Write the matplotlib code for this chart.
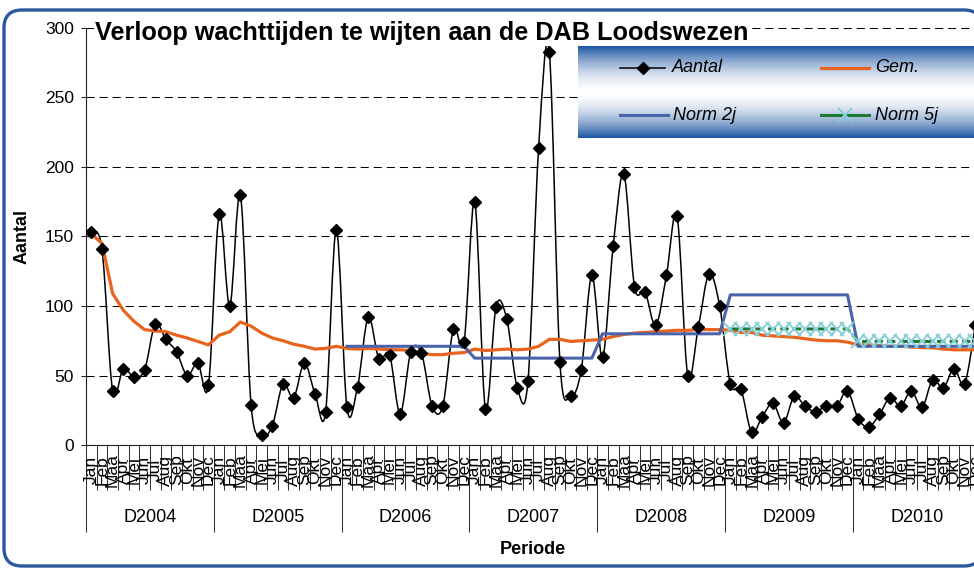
import numpy as np
import matplotlib.pyplot as plt
from matplotlib.path import Path
from matplotlib.patches import PathPatch, FancyBboxPatch
from matplotlib.transforms import blended_transform_factory

plt.rcParams['font.family'] = ['Liberation Sans', 'DejaVu Sans']
plt.rcParams['lines.scale_dashes'] = False

# Data =============================================================
maanden = ['Jan', 'Feb', 'Maa', 'Apr', 'Mei', 'Jun', 'Jul', 'Aug', 'Sep', 'Okt', 'Nov', 'Dec']
jaren = ['D2004', 'D2005', 'D2006', 'D2007', 'D2008', 'D2009', 'D2010']

aantal = [153, 141, 39, 55, 49, 54, 87, 76, 67, 50, 59, 43,
          166, 100, 180, 29, 7, 14, 44, 34, 59, 37, 24, 155,
          27, 42, 92, 62, 65, 22.5, 67, 66, 28, 28, 83.5, 74,
          175, 26, 99.5, 91, 41, 46, 214, 283, 60, 35, 54, 122,
          63, 143, 195, 114, 110, 86, 122, 165, 50, 85, 123, 100,
          44, 40, 9, 20.5, 30, 16, 35, 28, 24, 28, 28, 39,
          19, 13, 22, 34, 28, 39, 27, 47, 41, 55, 44, 86]

gem = [152, 145, 109, 97, 89, 83, 82, 81.5, 79, 77, 74.5, 72,
       79, 81.5, 88.5, 85.5, 80.5, 77, 75, 72.5, 71, 69, 69.5, 71,
       69.5, 69, 69.5, 69, 68.5, 68.5, 68, 66, 65, 65, 66, 66.5,
       69, 68, 68.5, 69, 68.5, 69, 71, 76, 76, 74.5, 75, 75.5,
       76, 78, 79.5, 80.5, 81, 81.5, 82, 82.5, 82.5, 83, 83, 83,
       82.5, 81, 81, 79, 78.5, 78, 77.5, 76.5, 75.5, 75, 75, 74,
       72, 72, 71.5, 71, 71, 70.5, 70, 70, 69, 68.5, 68.5, 68.5]

norm_2j = [None, None, None, None, None, None, None, None, None, None, None, None,
           None, None, None, None, None, None, None, None, None, None, None, None,
           71, 71, 71, 71, 71, 71, 71, 71, 71, 71, 71, 71,
           62.5, 62.5, 62.5, 62.5, 62.5, 62.5, 62.5, 62.5, 62.5, 62.5, 62.5, 62.5,
           80, 80, 80, 80, 80, 80, 80, 80, 80, 80, 80, 80,
           108, 108, 108, 108, 108, 108, 108, 108, 108, 108, 108, 108,
           71, 71, 71, 71, 71, 71, 71, 71, 71, 71, 71, 71]

norm_5j = [None, None, None, None, None, None, None, None, None, None, None, None,
           None, None, None, None, None, None, None, None, None, None, None, None,
           None, None, None, None, None, None, None, None, None, None, None, None,
           None, None, None, None, None, None, None, None, None, None, None, None,
           None, None, None, None, None, None, None, None, None, None, None, None,
           83.5, 83.5, 83.5, 83.5, 83.5, 83.5, 83.5, 83.5, 83.5, 83.5, 83.5, 83.5,
           74.5, 74.5, 74.5, 74.5, 74.5, 74.5, 74.5, 74.5, 74.5, 74.5, 74.5, 74.5]

# Kleuren
c_aantal = 'black'
c_gem = '#e8641e'
c_norm2 = '#4a64ac'
c_norm5 = '#1e7a32'
c_kruis = '#86cfda'
c_kader = '#2b5a9e'


def smooth_path(x, y):
    # Excel-achtige gladde lijn (Bezier door de punten)
    pts = np.column_stack([x, y]).astype(float)
    n = len(pts)
    verts = [pts[0]]
    codes = [Path.MOVETO]
    for i in range(n - 1):
        p0 = pts[i - 1] if i > 0 else pts[i]
        p1 = pts[i]
        p2 = pts[i + 1]
        p3 = pts[i + 2] if i + 2 < n else pts[i + 1]
        verts += [p1 + (p2 - p0) / 6, p2 - (p3 - p1) / 6, p2]
        codes += [Path.CURVE4] * 3
    return Path(verts, codes)


x = np.arange(len(aantal))
n2 = np.array([np.nan if v is None else v for v in norm_2j])
n5 = np.array([np.nan if v is None else v for v in norm_5j])

W, H = 974, 569
fig = plt.figure(figsize=(W / 100, H / 100), dpi=100)

# kader rond de grafiek
kader = FancyBboxPatch((4 / 100, 3 / 100), 978 / 100, 556 / 100,
                       boxstyle='round,pad=0,rounding_size=0.18',
                       transform=fig.dpi_scale_trans, facecolor='white',
                       edgecolor=c_kader, lw=2.4, zorder=0)
fig.add_artist(kader)

ax = fig.add_axes([86 / W, 1 - 445 / H, (980.6 - 86) / W, (445 - 28) / H])
ax.set_facecolor('none')
ax.set_xlim(-0.5, len(aantal) - 0.5)
ax.set_ylim(0, 300)

ax.add_patch(PathPatch(smooth_path(x, aantal), facecolor='none', edgecolor=c_aantal,
                       lw=1.1, zorder=3))
ax.plot(x, aantal, ls='none', marker='D', ms=6, color=c_aantal, zorder=6)
ax.plot(x, gem, color=c_gem, lw=2.3, zorder=4)
ax.plot(x, n2, color=c_norm2, lw=2.2, zorder=4)
ax.plot(x, n5, color=c_norm5, lw=2.2, ls=(0, (6, 3)), zorder=5,
        marker='x', ms=9.5, mec=c_kruis, mew=1.4)

# assen
for s in ['top', 'right']:
    ax.spines[s].set_visible(False)
for s in ['left', 'bottom']:
    ax.spines[s].set_linewidth(0.8)
    ax.spines[s].set_color('#222222')

ax.set_yticks(range(0, 301, 50))
ax.tick_params(axis='y', labelsize=12.5, length=3.6, width=0.75, pad=5, color='#222222')
ax.yaxis.grid(True, color='black', lw=0.75, ls=(0, (5.8, 3.6)))
ax.set_axisbelow(True)

jaar_grenzen = np.arange(-0.5, len(aantal), 12)
maand_grenzen = [g for g in np.arange(-0.5, len(aantal), 1) if g not in jaar_grenzen]
ax.set_xticks(jaar_grenzen)
ax.set_xticks(maand_grenzen, minor=True)
ax.tick_params(axis='x', which='major', length=62.6, width=0.75, color='#333333',
               labelbottom=False)
ax.tick_params(axis='x', which='minor', length=32.4, width=0.75, color='#333333')

tr = blended_transform_factory(ax.transData, fig.transFigure)
for i in x:
    ax.text(i, 1 - 470 / H, maanden[i % 12], transform=tr, rotation=90,
            ha='center', va='center', fontsize=12.5, clip_on=False)
for j, jaar in enumerate(jaren):
    ax.text(j * 12 + 5.5, 1 - 517 / H, jaar, transform=tr, ha='center', va='center',
            fontsize=13, clip_on=False)

fig.text(95 / W, 1 - 33 / H, 'Verloop wachttijden te wijten aan de DAB Loodswezen',
         fontsize=18.2, fontweight='bold', ha='left', va='center',
         bbox=dict(facecolor='white', edgecolor='none', pad=0.5))
fig.text(22 / W, 1 - 236 / H, 'Aantal', rotation=90, fontsize=13, fontweight='bold',
         ha='center', va='center')
fig.text(533 / W, 1 - 550 / H, 'Periode', fontsize=13, fontweight='bold',
         ha='center', va='center')

# legenda met verloop
lax = fig.add_axes([578 / W, 1 - 138 / H, 410 / W, 92 / H])
lax.set_xlim(578, 988)
lax.set_ylim(138, 46)
lax.axis('off')
t = np.abs(np.linspace(-1, 1, 200)) ** 1.7
blauw = np.array([0.12, 0.34, 0.64])
wit = np.array([1.0, 1.0, 1.0])
grad = (wit[None, :] * (1 - t[:, None]) + blauw[None, :] * t[:, None])[:, None, :]
lax.imshow(grad, extent=(578, 988, 138, 46), aspect='auto', zorder=0)

lax.plot([620, 665], [68, 68], color=c_aantal, lw=1.1)
lax.plot([642.5], [68], ls='none', marker='D', ms=6, color=c_aantal)
lax.text(672, 68, 'Aantal', fontsize=13, style='italic', va='center')
lax.plot([821, 869], [68, 68], color=c_gem, lw=2.3)
lax.text(875, 68, 'Gem.', fontsize=13, style='italic', va='center')
lax.plot([620, 668], [115, 115], color=c_norm2, lw=2.2)
lax.text(673, 115, 'Norm 2j', fontsize=13, style='italic', va='center')
lax.plot([821, 869], [115, 115], color=c_norm5, lw=2.2)
lax.plot([845], [115], ls='none', marker='x', ms=9.5, mec=c_kruis, mew=1.4)
lax.text(875, 115, 'Norm 5j', fontsize=13, style='italic', va='center')

fig.savefig('out.png', dpi=100)
